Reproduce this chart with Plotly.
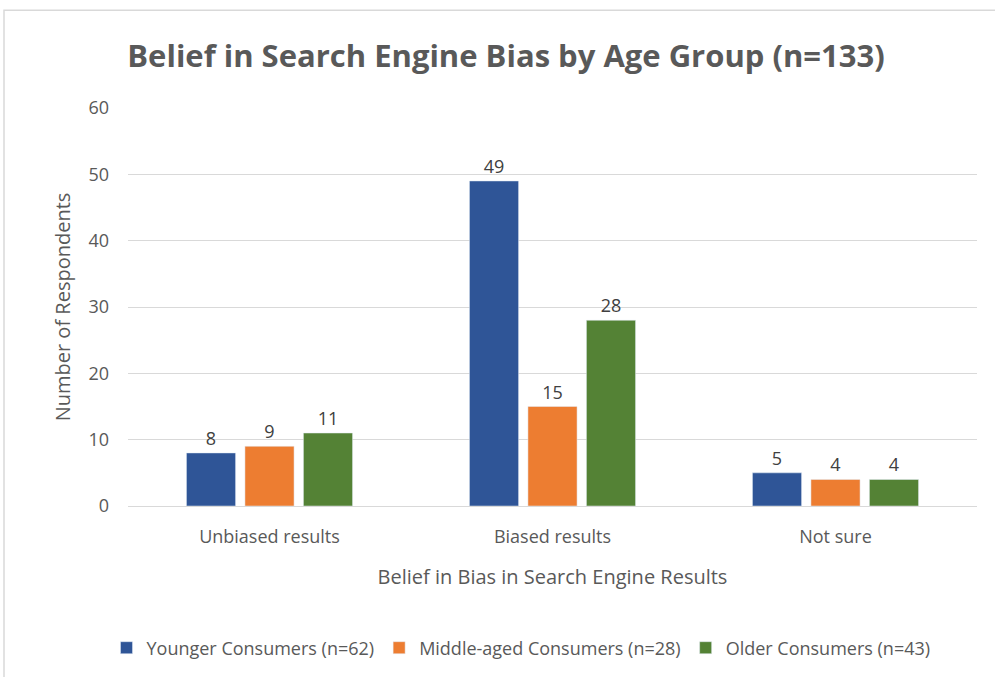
import plotly.graph_objects as go

categories = ["Unbiased results", "Biased results", "Not sure"]
series_names = ["Younger Consumers (n=62)", "Middle-aged Consumers (n=28)", "Older Consumers (n=43)"]
younger = [8, 49, 5]
middle = [9, 15, 4]
older = [11, 28, 4]
colors = ["#2F5597", "#ED7D31", "#548235"]

FONT = "'Open Sans', Lato, sans-serif"
fig = go.Figure()
for name, vals, c in zip(series_names, [younger, middle, older], colors):
    fig.add_trace(go.Bar(
        x=categories, y=vals, name=name, marker_color=c,
        text=vals, textposition="outside", cliponaxis=False,
        textfont=dict(size=18, color="#404040", family=FONT),
    ))

L, R, T, B = 128, 18, 108, 170
W, H = 995, 677
pw, ph = W - L - R, H - T - B

def px(x):
    return (x - L) / pw

def py(y):
    return (H - B - y) / ph

fig.update_layout(
    width=W, height=H,
    margin=dict(l=L, r=R, t=T, b=B),
    paper_bgcolor="white", plot_bgcolor="white",
    barmode="group", bargap=0.38, bargroupgap=0.16,
    font=dict(family=FONT, color="#595959"),
    title=dict(text="<b>Belief in Search Engine Bias by Age Group (n=133)</b>",
               xref="container", x=506 / W, xanchor="center", y=1 - 56 / H, yanchor="middle",
               font=dict(size=31, color="#595959", family=FONT)),
    xaxis=dict(showgrid=False, showline=True, linecolor="#d9d9d9", linewidth=1,
               ticks="", tickfont=dict(size=18, color="#595959"),
               ticklabelstandoff=14,
               title=dict(text="Belief in Bias in Search Engine Results",
                          font=dict(size=20, color="#595959"), standoff=23)),
    yaxis=dict(range=[0, 60], dtick=10, showgrid=True, gridcolor="#d9d9d9", gridwidth=1,
               zeroline=False, ticks="", tickfont=dict(size=18, color="#595959"),
               ticklabelstandoff=18,
               title=dict(text="Number of Respondents",
                          font=dict(size=20, color="#595959"), standoff=12)),
    legend=dict(orientation="h", x=px(521), xanchor="center", y=py(648), yanchor="middle",
                font=dict(size=18, color="#595959"), itemwidth=30, tracegroupgap=0),
    shapes=[dict(type="rect", xref="paper", yref="paper",
                 x0=px(4), y0=py(690), x1=px(1005), y1=py(10),
                 line=dict(color="#d9d9d9", width=1.5), fillcolor="rgba(0,0,0,0)", layer="below")],
)

fig.write_html("out.html")
